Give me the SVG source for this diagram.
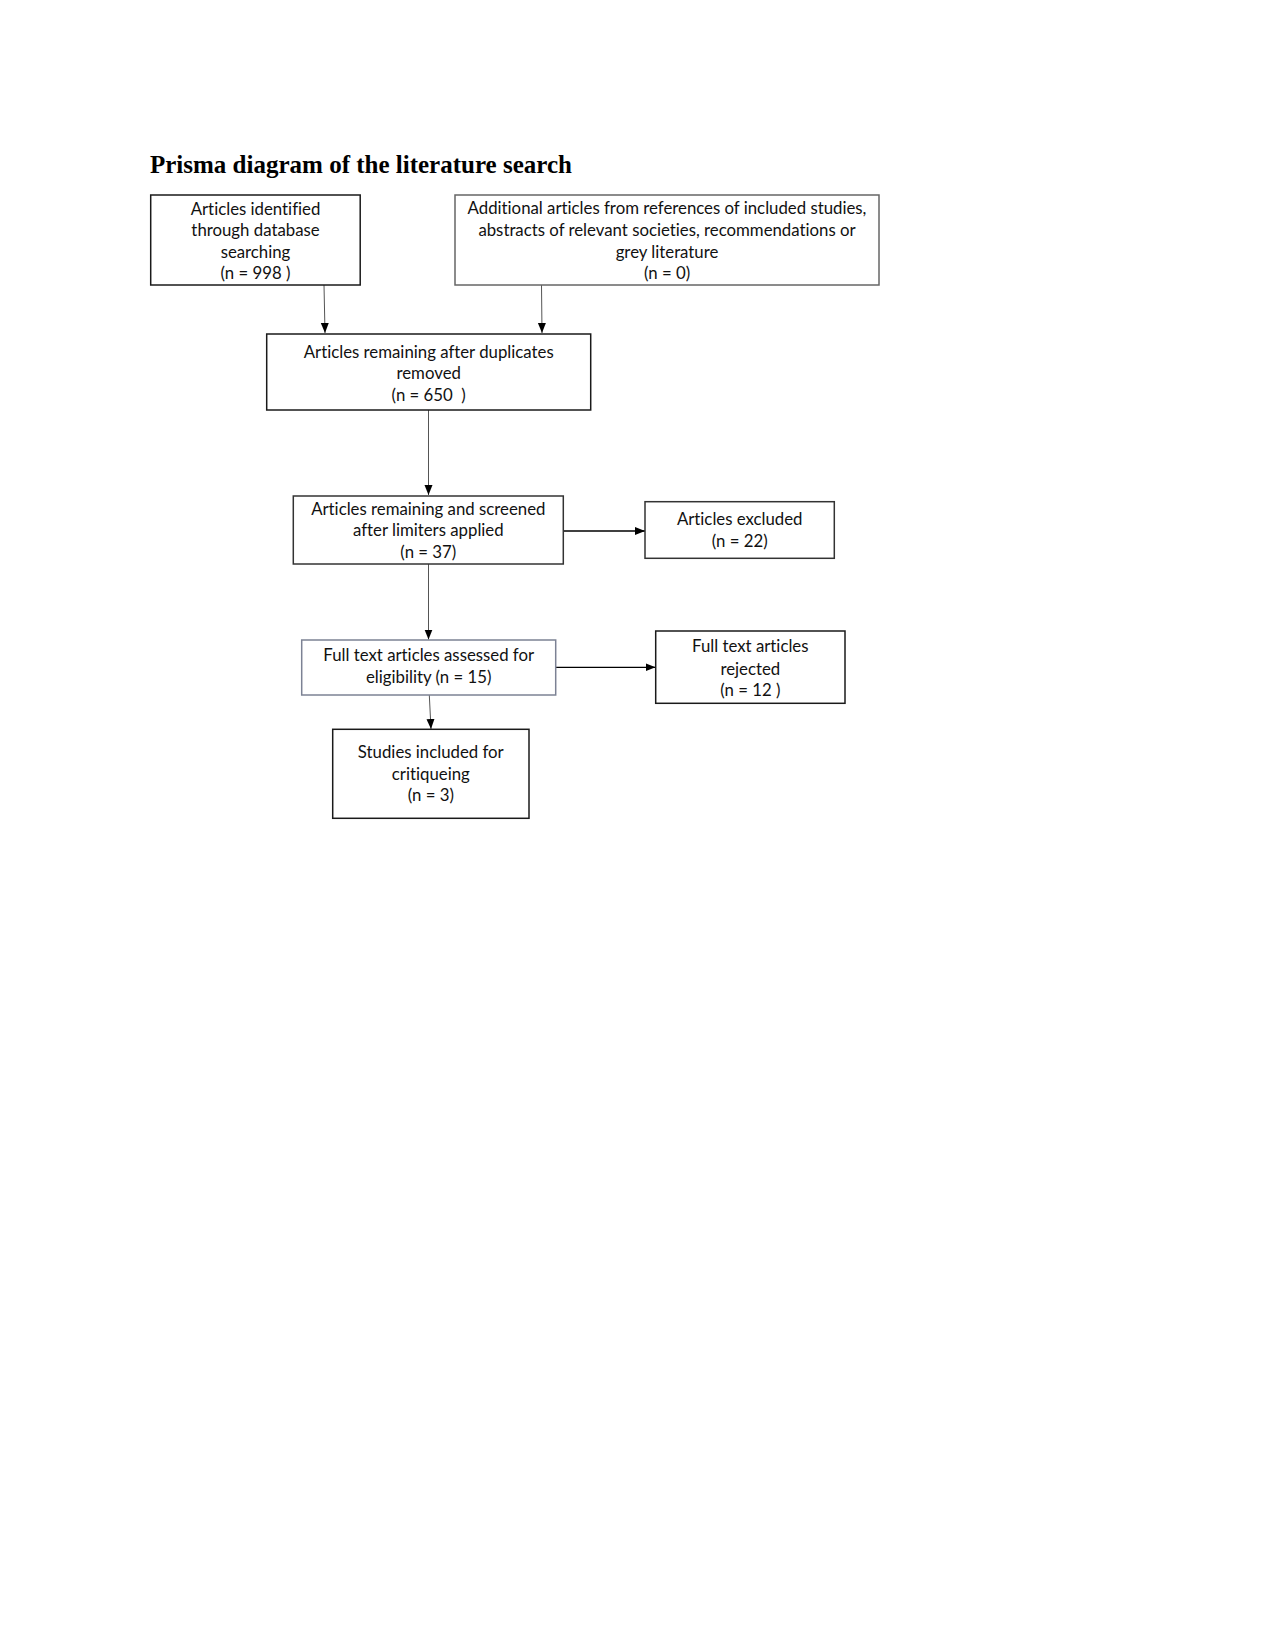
<svg xmlns="http://www.w3.org/2000/svg" width="1275" height="1650" viewBox="0 0 1275 1650">
<defs>
<style>
.title{font-family:"Liberation Serif","Times New Roman",serif;font-weight:bold;font-size:25px;fill:#000}
.box{fill:#fff;stroke:#1a1a1a;stroke-width:1.5}
.t{font-family:Lato,"Liberation Sans",sans-serif;font-size:16.8px;fill:#111;text-anchor:middle;font-variant-ligatures:none}
.v{stroke:#555;stroke-width:1;fill:none}
.h{stroke:#000;stroke-width:1.3;fill:none}
</style>
<marker id="ah" markerUnits="userSpaceOnUse" markerWidth="10" markerHeight="10" viewBox="0 0 10 10" refX="10" refY="5" orient="auto">
<path d="M0,1 L10,5 L0,9 Z" fill="#000"/>
</marker>
</defs>
<rect width="1275" height="1650" fill="#fff"/>
<text class="title" x="150" y="173">Prisma diagram of the literature search</text>

<g id="connectors">
<line class="v" x1="324" y1="285" x2="325" y2="333" marker-end="url(#ah)"/>
<line class="v" x1="541.5" y1="285" x2="542" y2="333" marker-end="url(#ah)"/>
<line class="v" x1="428.5" y1="410" x2="428.5" y2="495" marker-end="url(#ah)"/>
<line class="h" x1="563.5" y1="531" x2="645" y2="531" marker-end="url(#ah)"/>
<line class="v" x1="428.5" y1="564" x2="428.5" y2="639.5" marker-end="url(#ah)"/>
<line class="h" x1="555.5" y1="667.3" x2="655.5" y2="667.3" marker-end="url(#ah)"/>
<line class="v" x1="429.3" y1="695" x2="431" y2="729" marker-end="url(#ah)"/>
</g>

<g id="n1">
<rect class="box" x="150.7" y="195" width="209.5" height="90" stroke="#000"/>
<text class="t" x="255.5" y="214.5">Articles identified</text>
<text class="t" x="255.5" y="236.2">through database</text>
<text class="t" x="255.5" y="257.9">searching</text>
<text class="t" x="255.5" y="279.2">(n = 998 )</text>
</g>

<g id="n2">
<rect class="box" x="455" y="195" width="424" height="90" style="stroke:#666"/>
<text class="t" x="667" y="214.3">Additional articles from references of included studies,</text>
<text class="t" x="667" y="236.2">abstracts of relevant societies, recommendations or</text>
<text class="t" x="667" y="257.7">grey literature</text>
<text class="t" x="667" y="279.2">(n = 0)</text>
</g>

<g id="n3">
<rect class="box" x="266.7" y="334" width="324" height="76"/>
<text class="t" x="428.7" y="357.9">Articles remaining after duplicates</text>
<text class="t" x="428.7" y="379.2">removed</text>
<text class="t" x="428.7" y="401.2">(n = 650&#160; )</text>
</g>

<g id="n4">
<rect class="box" x="293.3" y="496" width="270" height="68" style="stroke:#333"/>
<text class="t" x="428.3" y="514.5">Articles remaining and screened</text>
<text class="t" x="428.3" y="536.2">after limiters applied</text>
<text class="t" x="428.3" y="557.9">(n = 37)</text>
</g>

<g id="n5">
<rect class="box" x="645" y="501.7" width="189.3" height="56.6" style="stroke:#333"/>
<text class="t" x="739.7" y="525.2">Articles excluded</text>
<text class="t" x="739.7" y="547.2">(n = 22)</text>
</g>

<g id="n6">
<rect class="box" x="301.7" y="640" width="254" height="55" style="stroke:#7c8294"/>
<text class="t" x="428.7" y="661.2">Full text articles assessed for</text>
<text class="t" x="428.7" y="682.9">eligibility (n = 15)</text>
</g>

<g id="n7">
<rect class="box" x="655.7" y="631" width="189.3" height="72.3"/>
<text class="t" x="750.3" y="651.9">Full text articles</text>
<text class="t" x="750.3" y="674.5">rejected</text>
<text class="t" x="750.3" y="696.2">(n = 12 )</text>
</g>

<g id="n8">
<rect class="box" x="332.7" y="729.3" width="196.3" height="89"/>
<text class="t" x="430.8" y="757.9">Studies included for</text>
<text class="t" x="430.8" y="779.5">critiqueing</text>
<text class="t" x="430.8" y="801.2">(n = 3)</text>
</g>
</svg>
